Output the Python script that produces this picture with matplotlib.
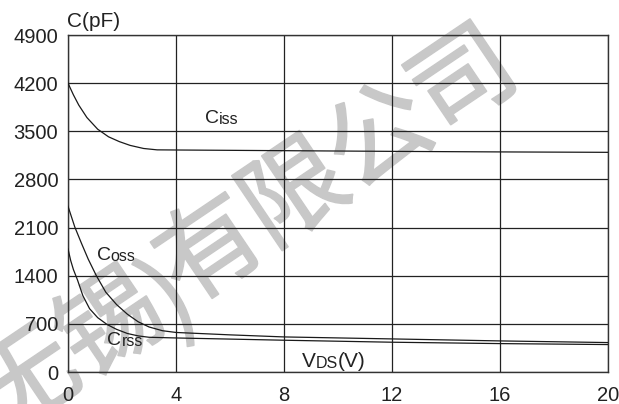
import matplotlib
matplotlib.use("Agg")
import matplotlib.pyplot as plt
import matplotlib.patheffects as pe

# ---- data ----
ciss_x = [0, 0.2, 0.4, 0.7, 1.1, 1.5, 1.9, 2.3, 2.8, 3.3, 4, 8, 12, 16, 20]
ciss_y = [4200, 4030, 3880, 3700, 3530, 3420, 3350, 3295, 3250, 3230, 3228, 3218, 3208, 3200, 3194]

coss_x = [0, 0.25, 0.5, 0.75, 1.05, 1.4, 1.8, 2.2, 2.6, 3.0, 3.5, 4.0, 6, 8, 12, 16, 20]
coss_y = [2410, 2110, 1870, 1640, 1400, 1160, 980, 840, 730, 655, 600, 575, 540, 510, 481, 452, 428]

crss_x = [0, 0.1, 0.2, 0.35, 0.55, 0.8, 1.1, 1.45, 1.8, 2.2, 2.6, 3.0, 4, 8, 12, 16, 20]
crss_y = [1790, 1620, 1490, 1340, 1110, 920, 790, 690, 620, 560, 525, 505, 495, 462, 433, 413, 399]

x_ticks = [0, 4, 8, 12, 16, 20]
y_ticks = [0, 700, 1400, 2100, 2800, 3500, 4200, 4900]

watermark_chars = ["无", "锡", ")", "有", "限", "公", "司"]

W, H = 619, 404
plt.rcParams['font.family'] = ['Liberation Sans', 'DejaVu Sans']
fig = plt.figure(figsize=(W / 100, H / 100), dpi=100)
ax = fig.add_axes([68 / W, 1 - 372 / H, (608 - 68) / W, (372 - 35) / H])
ax.patch.set_alpha(0)

# watermark (behind everything)
wm_col = '#c8c8c8'
wm_pos = [(28, 384), (112, 327), (172, 300), (212, 253), (296, 196), (381, 140), (465, 83)]
for ch, (px, py) in zip(watermark_chars, wm_pos):
    fig.text(px / W, 1 - py / H, ch, fontsize=74, color=wm_col, rotation=34,
             ha='center', va='center', family=['Noto Sans CJK SC', 'DejaVu Sans'],
             zorder=-5,
             path_effects=[pe.withStroke(linewidth=1.3, foreground=wm_col)])

line_col = '#1a1a1a'
for xs, ys in [(ciss_x, ciss_y), (coss_x, coss_y), (crss_x, crss_y)]:
    ax.plot(xs, ys, color=line_col, lw=0.9, zorder=3)

ax.set_xlim(0, 20)
ax.set_ylim(0, 4900)
ax.set_xticks(x_ticks)
ax.set_yticks(y_ticks)
ax.set_xticklabels([str(v) for v in x_ticks])
ax.set_yticklabels([str(v) for v in y_ticks])
ax.tick_params(axis='both', length=0, labelsize=14.5, colors='#222222')
ax.tick_params(axis='x', pad=10)
ax.tick_params(axis='y', pad=7)
ax.grid(True, color='#222222', lw=0.9)
for s in ax.spines.values():
    s.set_color('#333333')
    s.set_linewidth(1.0)


def sub_label(x, y, parts):
    prev = None
    for txt, size in parts:
        if prev is None:
            prev = ax.text(x, y, txt, fontsize=size, color='#222222', va='baseline', zorder=4)
        else:
            prev = ax.annotate(txt, xy=(1, 0), xycoords=prev, fontsize=size,
                               color='#222222', va='bottom', ha='left', zorder=4)


sub_label(5.07, 3625, [("C", 14), ("iss", 11.5)])
sub_label(1.06, 1628, [("C", 14), ("oss", 11.5)])
sub_label(1.46, 393, [("C", 14), ("rss", 11.5)])
sub_label(8.66, 77, [("V", 15), ("DS", 11.5), ("(V)", 15)])

fig.text(67 / W, 1 - 27 / H, "C(pF)", fontsize=15, color='#222222', va='baseline', ha='left')

fig.savefig("out.png", dpi=100)
